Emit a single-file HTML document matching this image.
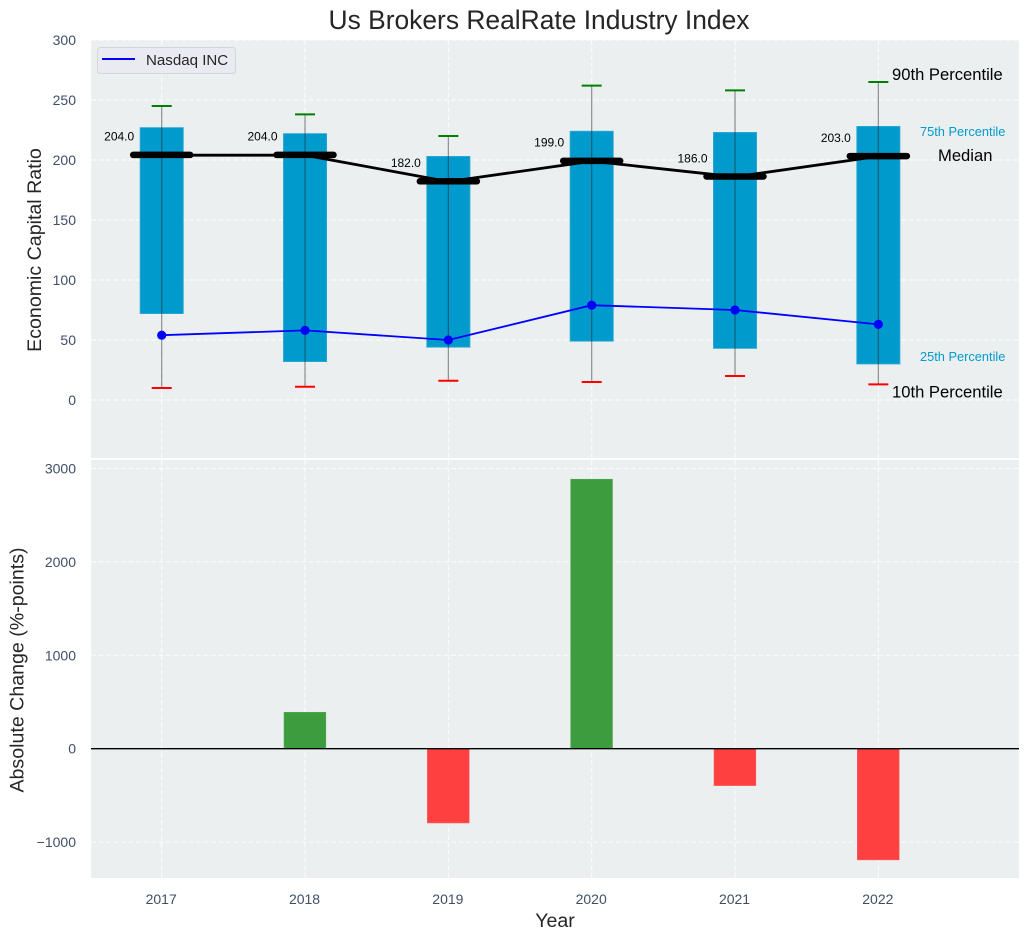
<!DOCTYPE html>
<html lang="en">
<head>
<meta charset="utf-8">
<title>Us Brokers RealRate Industry Index</title>
<style>
  html, body { margin: 0; padding: 0; background: #fff; }
  #chart { display: block; width: 1029px; height: 940px; font-family: "Liberation Sans", Arial, sans-serif; }
  .tick { font-size: 14px; fill: #3f4f66; }
  .axis-title { font-size: 19.6px; fill: #262626; }
</style>
</head>
<body>
<svg id="chart" xmlns="http://www.w3.org/2000/svg" width="1029" height="940" viewBox="0 0 1029 940">
  <rect x="0" y="0" width="1029" height="940" fill="#ffffff"/>
  <text x="539" y="29" text-anchor="middle" font-size="26.4" fill="#262626">Us Brokers RealRate Industry Index</text>
  <rect x="91" y="40" width="928" height="418" fill="#ebeff0"/>
  <rect x="91" y="460" width="928" height="418" fill="#ebeff0"/>
  <g id="top-grid"></g>
  <g id="bottom-grid"></g>
  <g id="boxes"></g>
  <g id="change-bars"></g>
  <g id="medians"></g>
  <g id="nasdaq"></g>
  <g id="annotations"></g>
  <g id="ticks"></g>
  <text class="axis-title" transform="translate(41 250) rotate(-90)" text-anchor="middle">Economic Capital Ratio</text>
  <text class="axis-title" transform="translate(23.5 670) rotate(-90)" text-anchor="middle">Absolute Change (%-points)</text>
  <text class="axis-title" x="555" y="927" text-anchor="middle">Year</text>
  <g>
    <rect x="97.5" y="47.5" width="138" height="26" rx="3" fill="#eaeaf2" stroke="#d3d5d8" stroke-width="1"/>
    <line x1="102" y1="59" x2="135" y2="59" stroke="#0000ff" stroke-width="2"/>
    <text x="146" y="65" font-size="15.1" fill="#262626">Nasdaq INC</text>
  </g>
</svg>
<script>
const years = [2017, 2018, 2019, 2020, 2021, 2022];
const p90 = [245, 238, 220, 262, 258, 265];
const p75 = [227, 222, 203, 224, 223, 228];
const median = [204, 204, 182, 199, 186, 203];
const p25 = [72, 32, 44, 49, 43, 30];
const p10 = [10, 11, 16, 15, 20, 13];
const nasdaq = [54, 58, 50, 79, 75, 63];
const change = [0, 390, -795, 2885, -395, -1190];
const topTicks = [0, 50, 100, 150, 200, 250, 300];
const bottomTicks = [-1000, 0, 1000, 2000, 3000];
const medianLabels = ['204.0', '204.0', '182.0', '199.0', '186.0', '203.0'];

const NS = 'http://www.w3.org/2000/svg';
const xScale = function (i) { return 161.7 + i * 143.33; };
const yTop = function (v) { return 400 - v * 1.2; };
const yBottom = function (v) { return 748.7 - v * 0.0934; };

function make(parent, tag, attrs, text) {
  const el = document.createElementNS(NS, tag);
  Object.keys(attrs).forEach(function (k) { el.setAttribute(k, attrs[k]); });
  if (text !== undefined) el.textContent = text;
  parent.appendChild(el);
  return el;
}
const g = function (id) { return document.getElementById(id); };
const gridStyle = { stroke: '#ffffff', 'stroke-width': 1, 'stroke-dasharray': '5 2.5', 'stroke-opacity': 0.9 };

/* grid lines */
topTicks.forEach(function (t) {
  const el = make(g('top-grid'), 'line', Object.assign({ x1: 91, x2: 1019, y1: yTop(t), y2: yTop(t) }, gridStyle));
  
  
});
bottomTicks.forEach(function (t) {
  const el = make(g('bottom-grid'), 'line', Object.assign({ x1: 91, x2: 1019, y1: yBottom(t), y2: yBottom(t) }, gridStyle));
  
  
});
years.forEach(function (y, i) {
  const a = make(g('top-grid'), 'line', Object.assign({ x1: xScale(i), x2: xScale(i), y1: 40, y2: 458 }, gridStyle));
  
  
  const b = make(g('bottom-grid'), 'line', Object.assign({ x1: xScale(i), x2: xScale(i), y1: 460, y2: 878 }, gridStyle));
  
  
});

/* boxes and whiskers */
years.forEach(function (y, i) {
  const cx = xScale(i);
  const box = make(g('boxes'), 'rect', { x: cx - 21.6, width: 43.2, y: yTop(p75[i]), height: yTop(p25[i]) - yTop(p75[i]), fill: '#009bcc', stroke: '#33aad4', 'stroke-width': 0.8 });
  
  
  const whisker = make(g('boxes'), 'line', { x1: cx, x2: cx, y1: yTop(p90[i]), y2: yTop(p10[i]), stroke: '#262626', 'stroke-opacity': 0.5, 'stroke-width': 1.2 });
  
  
  const capHi = make(g('boxes'), 'line', { x1: cx - 10, x2: cx + 10, y1: yTop(p90[i]), y2: yTop(p90[i]), stroke: '#008000', 'stroke-width': 2 });
  
  
  const capLo = make(g('boxes'), 'line', { x1: cx - 10, x2: cx + 10, y1: yTop(p10[i]), y2: yTop(p10[i]), stroke: '#ff0000', 'stroke-width': 2 });
  
  
});

/* change bars */
years.forEach(function (y, i) {
  const cx = xScale(i) - 0.1;
  const y0 = yBottom(0);
  const y1 = yBottom(change[i]);
  const bar = make(g('change-bars'), 'rect', { x: cx - 20.9, width: 41.8, y: Math.min(y0, y1), height: Math.abs(y1 - y0), fill: change[i] >= 0 ? '#3d9c3d' : '#ff4040', stroke: change[i] >= 0 ? '#57a957' : '#ff5c5c', 'stroke-width': change[i] === 0 ? 0 : 0.6 });
  
  
});
const zeroLine = make(g('change-bars'), 'line', { x1: 91, x2: 1019, y1: yBottom(0), y2: yBottom(0), stroke: '#000000', 'stroke-width': 1.3 });



/* median line, thick markers, labels */
const medianLine = make(g('medians'), 'polyline', { points: years.map(function (y, i) { return xScale(i) + ',' + yTop(median[i]); }).join(' '), fill: 'none', stroke: '#000000', 'stroke-width': 2.8 });


years.forEach(function (y, i) {
  const cx = xScale(i);
  const thick = make(g('medians'), 'line', { x1: cx - 28.5, x2: cx + 28.5, y1: yTop(median[i]) - 0.3, y2: yTop(median[i]) - 0.3, stroke: '#000000', 'stroke-width': 6.5, 'stroke-linecap': 'round' });
  
  
  const label = make(g('medians'), 'text', { x: cx - 27.5, y: yTop(median[i]) - 14.5, 'text-anchor': 'end', 'font-size': 12, fill: '#000000' }, medianLabels[i]);
  
  
});

/* nasdaq series */
const nasdaqLine = make(g('nasdaq'), 'polyline', { points: years.map(function (y, i) { return xScale(i) + ',' + yTop(nasdaq[i]); }).join(' '), fill: 'none', stroke: '#0000ff', 'stroke-width': 1.8 });


years.forEach(function (y, i) {
  const dot = make(g('nasdaq'), 'circle', { cx: xScale(i), cy: yTop(nasdaq[i]), r: 4.6, fill: '#0000ff' });
  
  
});

/* right-hand percentile annotations anchored on the last year */
const last = years.length - 1;
const note90 = make(g('annotations'), 'text', { x: 892, y: yTop(p90[last]) - 2, 'font-size': 16.6, fill: '#000000' }, '90th Percentile');


const note75 = make(g('annotations'), 'text', { x: 920, y: yTop(p75[last]) + 9.5, 'font-size': 12.8, fill: '#009bcc' }, '75th Percentile');


const noteMed = make(g('annotations'), 'text', { x: 938, y: yTop(median[last]) + 4.6, 'font-size': 16.6, fill: '#000000' }, 'Median');


const note25 = make(g('annotations'), 'text', { x: 920, y: yTop(p25[last]) - 3, 'font-size': 12.8, fill: '#009bcc' }, '25th Percentile');


const note10 = make(g('annotations'), 'text', { x: 892, y: yTop(p10[last]) + 13, 'font-size': 16.6, fill: '#000000' }, '10th Percentile');



/* tick labels */
topTicks.forEach(function (t) {
  const el = make(g('ticks'), 'text', { class: 'tick', x: 76, y: yTop(t) + 5, 'text-anchor': 'end' }, String(t));
  
  
});
bottomTicks.forEach(function (t) {
  const el = make(g('ticks'), 'text', { class: 'tick', x: 76, y: yBottom(t) + 5, 'text-anchor': 'end' }, String(t).replace('-', '\u2212'));
  
  
});
years.forEach(function (y, i) {
  const el = make(g('ticks'), 'text', { class: 'tick', x: xScale(i) - 0.5, y: 904, 'text-anchor': 'middle' }, String(y));
  
  
});
</script>
</body>
</html>
